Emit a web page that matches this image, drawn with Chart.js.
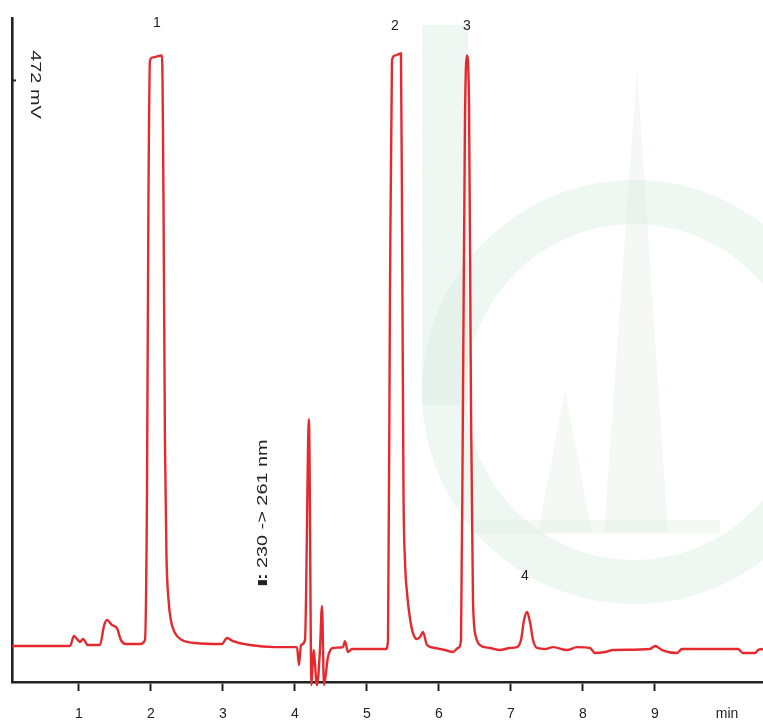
<!DOCTYPE html>
<html>
<head>
<meta charset="utf-8">
<script src="https://cdn.jsdelivr.net/npm/chart.js@4.4.1/dist/chart.umd.min.js"></script>
<style>
  html, body { margin: 0; padding: 0; background: #fff; }
  #wrap { width: 763px; height: 722px; position: relative; }
</style>
</head>
<body>
<div id="wrap"><canvas id="chromChart"></canvas></div>
<script>
// retention time (min) and detector signal (mV)
const times = [0.07, 0.875, 0.931, 0.986, 1.014, 1.056, 1.125, 1.292, 1.347, 1.389, 1.458, 1.528, 1.583, 1.653,
  1.847, 1.917, 1.944, 1.965, 1.986, 2.028, 2.153, 2.174, 2.194, 2.215, 2.243, 2.278, 2.333, 2.431, 2.611, 2.986,
  3.056, 3.139, 3.375, 3.722, 4.028, 4.056, 4.083, 4.139, 4.194, 4.229, 4.257, 4.306, 4.347, 4.375, 4.403,
  4.458, 4.528, 4.667, 4.694, 4.736, 4.792, 5.264, 5.292, 5.319, 5.347, 5.389, 5.472, 5.49, 5.507, 5.528,
  5.556, 5.597, 5.639, 5.694, 5.736, 5.778, 5.833, 5.944, 6.083, 6.194, 6.264, 6.306, 6.333, 6.361, 6.389, 6.417,
  6.444, 6.472, 6.514, 6.569, 6.708, 6.847, 6.986, 7.083, 7.139, 7.181, 7.222, 7.264, 7.306, 7.361, 7.472,
  7.583, 7.778, 7.917, 8.097, 8.167, 8.306, 8.417, 8.931, 9.0, 9.097, 9.306, 9.375, 10.153, 10.222, 10.389,
  10.431, 10.5];
const signal = [28.2, 28.2, 36.1, 32.9, 31.4, 33.7, 29.0, 29.0, 43.9, 48.6, 44.7, 42.3, 32.9, 29.8,
  29.8, 32.9, 142.7, 377.9, 487.7, 490.1, 491.6, 377.9, 190.0, 100.0, 65.0, 48.0, 38.4, 32.9, 30.6, 29.8,
  34.5, 32.1, 29.0, 27.4, 27.4, 13.3, 29.0, 32.9, 206.2, -2.4, 25.1, -2.4, 25.1, 59.6, -2.4,
  19.6, 26.7, 27.4, 32.1, 23.5, 25.9, 25.9, 32.9, 299.5, 487.7, 491.6, 493.2, 330.0, 150.0, 95.0,
  70.0, 50.0, 38.4, 33.7, 35.3, 39.2, 29.0, 26.7, 25.1, 23.5, 26.7, 32.9, 221.1, 440.7, 491.6, 456.3,
  221.1, 64.3, 35.3, 29.0, 26.7, 25.1, 26.7, 27.4, 32.9, 48.6, 54.9, 47.0, 32.9, 26.7, 25.9,
  27.4, 25.1, 27.4, 26.7, 22.7, 23.5, 25.1, 25.9, 28.2, 25.1, 22.7, 25.9, 25.9, 22.7, 22.7,
  25.1, 25.9];

const peakNames = ['1', '2', '3', '4'];
const peakTimes = [2.083, 5.389, 6.389, 7.194];
const peakLabelLevels = [517, 515, 515, 83];

const xTicks = [1, 2, 3, 4, 5, 6, 7, 8, 9, 10];
const yTicks = [472];

const RED = '#e52a2f';
const INK = '#222';
const FONT = '"Liberation Sans", Arial, sans-serif';
const TEXT_STRETCH = 1.42; // rotated labels are drawn long in the source

// faint logo in the background
const watermark = {
  id: 'watermark',
  beforeDraw(chart) {
    const c = chart.ctx;
    c.save();
    c.fillStyle = '#fff';
    c.fillRect(0, 0, chart.width, chart.height);
    c.fillStyle = 'rgba(214, 234, 224, 0.38)';
    c.beginPath();
    c.arc(634, 392, 212, 0, Math.PI * 2);
    c.arc(634, 392, 168, 0, Math.PI * 2, true);
    c.fill();
    c.fillRect(422, 25, 46, 380);
    c.fillStyle = 'rgba(214, 234, 224, 0.28)';
    c.beginPath();
    c.moveTo(604, 532); c.lineTo(637, 68); c.lineTo(668, 532); c.closePath();
    c.fill();
    c.beginPath();
    c.moveTo(538, 532); c.lineTo(565, 390); c.lineTo(592, 532); c.closePath();
    c.fill();
    c.fillRect(470, 520, 250, 14);
    c.restore();
  }
};

// peak numbers, y tick and its label, wavelength switch note
const annotations = {
  id: 'annotations',
  afterDatasetsDraw(chart) {
    const c = chart.ctx;
    const xs = chart.scales.x, ys = chart.scales.y;
    c.save();
    c.fillStyle = INK;
    c.textAlign = 'center';
    c.textBaseline = 'middle';
    c.font = '14px ' + FONT;
    peakNames.forEach((n, i) => {
      c.fillText(n, xs.getPixelForValue(peakTimes[i]), ys.getPixelForValue(peakLabelLevels[i]));
    });

    const left = chart.chartArea.left;
    yTicks.forEach(v => {
      const py = ys.getPixelForValue(v);
      c.strokeStyle = INK;
      c.lineWidth = 2;
      c.beginPath();
      c.moveTo(left, py);
      c.lineTo(left + 4, py);
      c.stroke();
      c.save();
      c.translate(left + 23, py + 4);
      c.rotate(Math.PI / 2);
      c.scale(TEXT_STRETCH, 1);
      c.font = '14px ' + FONT;
      c.fillText(v + ' mV', 0, 0);
      c.restore();
    });

    c.save();
    c.translate(xs.getPixelForValue(3.556), ys.getPixelForValue(76));
    c.rotate(-Math.PI / 2);
    c.fillRect(0, -5, 5, 9);
    c.scale(TEXT_STRETCH, 1);
    c.textAlign = 'left';
    c.font = 'bold 14px ' + FONT;
    c.fillText(':', 3.6, 0);
    c.font = '14px ' + FONT;
    c.fillText('230 -> 261 nm', 12, 0);
    c.restore();
    c.restore();
  }
};

const ctx = document.getElementById('chromChart').getContext('2d');
new Chart(ctx, {
  type: 'line',
  data: {
    datasets: [{
      data: times.map((t, i) => ({ x: t, y: signal[i] })),
      borderColor: RED,
      borderWidth: 2.4,
      pointRadius: 0,
      cubicInterpolationMode: 'monotone',
      fill: false,
      clip: 8
    }]
  },
  options: {
    responsive: true,
    maintainAspectRatio: false,
    animation: false,
    layout: { padding: { left: 12, top: 18, right: 0, bottom: 0 } },
    plugins: { legend: { display: false }, tooltip: { enabled: false } },
    scales: {
      x: {
        type: 'linear',
        min: 0.07,
        max: 10.5,
        afterBuildTicks: s => { s.ticks = xTicks.map(v => ({ value: v })); },
        afterFit: s => { s.height = 40; },
        ticks: {
          autoSkip: false,
          maxRotation: 0,
          padding: 15,
          color: INK,
          font: { family: FONT, size: 14 },
          callback: v => (v === 10 ? 'min' : v)
        },
        grid: {
          drawOnChartArea: false,
          tickLength: 9,
          tickWidth: 2,
          tickColor: c => (c.tick && c.tick.value === 10 ? 'rgba(0,0,0,0)' : INK)
        },
        border: { color: INK, width: 2.6 }
      },
      y: {
        min: 0,
        max: 521,
        afterFit: s => { s.width = 0; },
        ticks: { display: false },
        grid: { display: false, drawTicks: false },
        border: { color: INK, width: 2.6 }
      }
    }
  },
  plugins: [watermark, annotations]
});
</script>
</body>
</html>
